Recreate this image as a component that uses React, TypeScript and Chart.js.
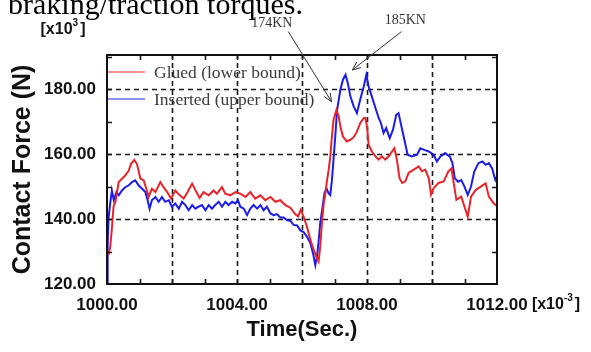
import React, { useEffect, useRef } from 'react';
import { Chart, registerables } from 'chart.js';

Chart.register(...registerables);

// ---- data (time in 10^-3 s, force in 10^3 N) ----
const redTime = [
  1000.05, 1000.1, 1000.15, 1000.2, 1000.26, 1000.36, 1000.46, 1000.56, 1000.67, 1000.74,
  1000.84, 1000.92, 1001.03, 1001.13, 1001.21, 1001.28, 1001.38, 1001.49, 1001.64, 1001.74,
  1001.85, 1001.97, 1002.1, 1002.24, 1002.36, 1002.48, 1002.62, 1002.75, 1002.85, 1002.97,
  1003.13, 1003.28, 1003.38, 1003.54, 1003.64, 1003.79, 1003.95, 1004.1, 1004.26, 1004.41,
  1004.56, 1004.72, 1004.87, 1005.03, 1005.18, 1005.33, 1005.49, 1005.64, 1005.79, 1005.88,
  1005.96, 1006.05, 1006.15, 1006.26, 1006.36, 1006.46, 1006.51, 1006.56, 1006.62, 1006.67,
  1006.72, 1006.77, 1006.82, 1006.87, 1006.92, 1006.97, 1007.06, 1007.13, 1007.18, 1007.26,
  1007.38, 1007.49, 1007.59, 1007.69, 1007.79, 1007.9, 1007.95, 1008.0, 1008.05, 1008.15,
  1008.26, 1008.36, 1008.46, 1008.56, 1008.67, 1008.77, 1008.84, 1008.92, 1009.0, 1009.08,
  1009.18, 1009.28, 1009.44, 1009.59, 1009.69, 1009.79, 1009.9, 1009.97, 1010.05, 1010.2,
  1010.36, 1010.5, 1010.6, 1010.67, 1010.75, 1010.9, 1011.0, 1011.1, 1011.2, 1011.35,
  1011.5, 1011.65, 1011.75, 1011.9, 1012.0,
];
const redForce = [
  129, 131.5, 137, 143.8, 145.3, 151.4, 152.4, 153.4, 154.9, 157,
  158.2, 157, 152.4, 151.9, 149.3, 146.8, 149.3, 148.3, 151.4, 149.8,
  148.3, 146.3, 148.8, 147.3, 146.3, 148.3, 150.9, 148.3, 146.5, 148.3,
  147.3, 148.8, 147.8, 149.8, 147.8, 147.3, 148.3, 147.8, 146.8, 148.3,
  146.3, 147.3, 145.8, 146.8, 145.3, 145.8, 144.3, 143.5, 141.5, 140.8,
  142.8, 140.7, 137.7, 133.5, 130.5, 127.9, 126.9, 131.5, 139.7, 144.9,
  147.9, 152, 155.1, 159.2, 165.4, 170.5, 173.6, 171.6, 168.5, 165.4,
  163.9, 164.4, 165.2, 166.9, 169.5, 171.1, 171.1, 168.5, 162.9, 160.8,
  159.3, 158.3, 159.3, 158.3, 159.3, 160.8, 161.8, 158.3, 152.6, 151.1,
  151.6, 154.2, 155.2, 156.2, 154.7, 155.2, 152.6, 147.5, 149.5, 151.1,
  151.6, 154.6, 155.6, 151, 145.9, 146.9, 143.8, 140.7, 146.9, 149,
  150, 151, 146.9, 144.8, 144,
];
const blueTime = [
  1000.0, 1000.02, 1000.05, 1000.1, 1000.15, 1000.21, 1000.29, 1000.36, 1000.46, 1000.56,
  1000.67, 1000.77, 1000.87, 1000.97, 1001.08, 1001.18, 1001.25, 1001.31, 1001.38, 1001.49,
  1001.59, 1001.69, 1001.79, 1001.9, 1002.0, 1002.1, 1002.21, 1002.31, 1002.41, 1002.51,
  1002.62, 1002.72, 1002.82, 1002.92, 1003.03, 1003.13, 1003.23, 1003.33, 1003.44, 1003.54,
  1003.64, 1003.74, 1003.85, 1003.95, 1004.03, 1004.1, 1004.21, 1004.31, 1004.41, 1004.51,
  1004.62, 1004.72, 1004.82, 1004.92, 1005.03, 1005.13, 1005.23, 1005.33, 1005.44, 1005.54,
  1005.64, 1005.74, 1005.85, 1005.95, 1006.05, 1006.15, 1006.26, 1006.34, 1006.41, 1006.46,
  1006.51, 1006.56, 1006.62, 1006.69, 1006.75, 1006.82, 1006.87, 1006.92, 1006.97, 1007.03,
  1007.08, 1007.18, 1007.26, 1007.34, 1007.41, 1007.49, 1007.59, 1007.69, 1007.79, 1007.9,
  1007.98, 1008.05, 1008.15, 1008.26, 1008.36, 1008.43, 1008.51, 1008.59, 1008.7, 1008.8,
  1008.9, 1008.97, 1009.06, 1009.15, 1009.25, 1009.38, 1009.54, 1009.64, 1009.76, 1009.9,
  1010.05, 1010.15, 1010.26, 1010.4, 1010.55, 1010.63, 1010.7, 1010.8, 1010.9, 1011.0,
  1011.1, 1011.2, 1011.3, 1011.43, 1011.55, 1011.65, 1011.75, 1011.85, 1011.95, 1012.0,
];
const blueForce = [
  120, 132, 140.5, 145, 148.8, 145.8, 148.3, 147.3, 148.8, 149.8,
  150.4, 151.4, 151.9, 150.4, 149.3, 148.3, 145.8, 143.2, 145.8, 146.8,
  145.3, 146.8, 145.3, 145.8, 143.8, 144.8, 143.2, 145.3, 144.3, 142.7,
  144.3, 143.2, 143.8, 144.3, 142.7, 144.3, 143.2, 144.3, 145.3, 143.8,
  145.3, 144.3, 145.3, 144.8, 145.8, 143.8, 143.2, 141.2, 143.2, 144.3,
  143.2, 144.3, 142.7, 143.8, 141.7, 141.2, 141.5, 140.5, 140.5, 139.6,
  139.5, 138.2, 138, 136.5, 136, 134.6, 132.5, 129.4, 125.8, 128.4,
  133, 138.7, 142.8, 147.9, 149.5, 147.9, 147.4, 152, 158.2, 166.4,
  173.6, 179.8, 182.9, 184.4, 181.8, 177.7, 174.7, 172.6, 176.7, 180.8,
  184.4, 180.8, 177.7, 174.2, 171.1, 169.5, 166.5, 168, 164.9, 167.5,
  172.1, 172.6, 168.5, 164.4, 159.8, 159.3, 159.8, 161.8, 161.3, 160.8,
  159.8, 157.7, 159.3, 160.3, 159.2, 157.2, 152.6, 151.5, 152, 150,
  147.4, 150, 154.6, 157.2, 157.7, 156.7, 157.2, 155.6, 152, 153,
];

const seriesNames = ['Glued (lower bound)', 'Inserted (upper bound)'];
const seriesColors = ['#e8242a', '#1c1ce8'];

const xMin = 1000;
const xMax = 1012;
const yMin = 120;
const yMax = 190.5;
const xLabelValues = [1000, 1004, 1008, 1012];
const yLabelValues = [120, 140, 160, 180];
const xGridValues = [1002, 1004, 1006, 1008, 1010];
const yGridValues = [140, 160, 180];

// peak annotations: label, arrow tail and arrow head in data units
const noteLabels = ['174KN', '185KN'];
const noteLabelTime = [1005.07, 1009.18];
const noteLabelForce = [200.4, 201.3];
const noteTailTime = [1005.58, 1009.06];
const noteTailForce = [197.7, 197.7];
const noteHeadTime = [1006.91, 1007.55];
const noteHeadForce = [176.1, 185.9];

const TICK_FONT = "'Liberation Sans', Arial, sans-serif";
const TITLE_FONT = "'Liberation Sans', Arial, sans-serif";
const SERIF = "'Liberation Serif', 'Times New Roman', serif";

const overlayPlugin = {
  id: 'overlay',
  beforeDatasetsDraw(chart: any) {
    const { ctx, chartArea: a, scales } = chart;
    const xs = scales.x, ys = scales.y;
    ctx.save();
    ctx.strokeStyle = '#1a1a1a';
    ctx.lineWidth = 1.6;
    ctx.setLineDash([5, 4]);
    xGridValues.forEach((v) => {
      const px = Math.round(xs.getPixelForValue(v)) + 0.5;
      ctx.beginPath();
      ctx.moveTo(px, a.bottom);
      ctx.lineTo(px, a.top);
      ctx.stroke();
    });
    yGridValues.forEach((v) => {
      const py = Math.round(ys.getPixelForValue(v)) + 0.5;
      ctx.beginPath();
      ctx.moveTo(a.left, py);
      ctx.lineTo(a.right, py);
      ctx.stroke();
    });
    ctx.restore();
  },
  afterDatasetsDraw(chart: any) {
    const { ctx, chartArea: a, scales } = chart;
    const xs = scales.x, ys = scales.y;
    ctx.save();
    // inner minor ticks
    ctx.strokeStyle = '#1a1a1a';
    ctx.lineWidth = 1.6;
    for (let v = xMin + 1; v < xMax; v++) {
      const px = Math.round(xs.getPixelForValue(v)) + 0.5;
      ctx.beginPath();
      ctx.moveTo(px, a.bottom);
      ctx.lineTo(px, a.bottom - 5);
      ctx.moveTo(px, a.top);
      ctx.lineTo(px, a.top + 5);
      ctx.stroke();
    }
    for (let v = yMin + 10; v < yMax; v += 10) {
      const py = Math.round(ys.getPixelForValue(v)) + 0.5;
      ctx.beginPath();
      ctx.moveTo(a.left, py);
      ctx.lineTo(a.left + 5, py);
      ctx.moveTo(a.right, py);
      ctx.lineTo(a.right - 5, py);
      ctx.stroke();
    }
    // frame
    ctx.lineWidth = 2;
    ctx.strokeStyle = '#111';
    ctx.strokeRect(a.left, a.top, a.right - a.left, a.bottom - a.top);

    // legend inside plot
    ctx.font = `17.5px ${SERIF}`;
    ctx.textBaseline = 'middle';
    ctx.textAlign = 'left';
    seriesNames.forEach((name, i) => {
      const ly = a.top + 17 + i * 27;
      ctx.strokeStyle = seriesColors[i];
      ctx.lineWidth = 1.2;
      ctx.beginPath();
      ctx.moveTo(a.left + 1, ly);
      ctx.lineTo(a.left + 38, ly);
      ctx.stroke();
      ctx.fillStyle = '#3c3c3c';
      ctx.fillText(name, a.left + 47, ly + 1);
    });

    // peak annotations
    ctx.font = `14px ${SERIF}`;
    ctx.textAlign = 'center';
    ctx.fillStyle = '#333';
    ctx.strokeStyle = '#333';
    ctx.lineWidth = 1;
    noteLabels.forEach((lab, i) => {
      ctx.fillText(lab, xs.getPixelForValue(noteLabelTime[i]), ys.getPixelForValue(noteLabelForce[i]));
      const x0 = xs.getPixelForValue(noteTailTime[i]);
      const y0 = ys.getPixelForValue(noteTailForce[i]);
      const x1 = xs.getPixelForValue(noteHeadTime[i]);
      const y1 = ys.getPixelForValue(noteHeadForce[i]);
      ctx.beginPath();
      ctx.moveTo(x0, y0);
      ctx.lineTo(x1, y1);
      const ang = Math.atan2(y1 - y0, x1 - x0);
      const L = 9;
      ctx.moveTo(x1, y1);
      ctx.lineTo(x1 - L * Math.cos(ang - 0.4), y1 - L * Math.sin(ang - 0.4));
      ctx.moveTo(x1, y1);
      ctx.lineTo(x1 - L * Math.cos(ang + 0.4), y1 - L * Math.sin(ang + 0.4));
      ctx.stroke();
    });

    // multiplier labels
    const drawPow = (cx: number, cy: number, base: string, sup: string) => {
      ctx.fillStyle = '#111';
      ctx.textAlign = 'left';
      ctx.textBaseline = 'middle';
      const big = `bold 16px ${TICK_FONT}`;
      const small = `bold 10px ${TICK_FONT}`;
      ctx.font = big;
      const w1 = ctx.measureText(base).width;
      const w3 = ctx.measureText(']').width;
      ctx.font = small;
      const w2 = ctx.measureText(sup).width;
      let x = cx - (w1 + w2 + w3 + 2) / 2;
      ctx.font = big;
      ctx.fillText(base, x, cy);
      x += w1;
      ctx.font = small;
      ctx.fillText(sup, x, cy - 7);
      x += w2 + 2;
      ctx.font = big;
      ctx.fillText(']', x, cy);
    };
    drawPow(63, 30, '[x10', '3');
    drawPow(a.right + 59, 305, '[x10', '-3');

    // top caption fragment (text above the figure)
    ctx.font = `30px ${SERIF}`;
    ctx.fillStyle = '#000';
    ctx.textAlign = 'left';
    ctx.textBaseline = 'alphabetic';
    ctx.fillText('braking/traction torques.', 8, 14);
    ctx.restore();
  },
};

export default function App() {
  const ref = useRef<HTMLCanvasElement | null>(null);
  useEffect(() => {
    if (!ref.current) return;
    const mk = (t: number[], f: number[]) => t.map((x, i) => ({ x, y: f[i] }));
    const chart = new Chart(ref.current, {
      type: 'line',
      data: {
        datasets: [
          {
            label: seriesNames[0],
            data: mk(redTime, redForce),
            borderColor: seriesColors[0],
            borderWidth: 2,
            pointRadius: 0,
            tension: 0,
          },
          {
            label: seriesNames[1],
            data: mk(blueTime, blueForce),
            borderColor: seriesColors[1],
            borderWidth: 2,
            pointRadius: 0,
            tension: 0,
          },
        ],
      },
      options: {
        animation: false,
        responsive: false,
        events: [],
        layout: { padding: { left: 0, top: 55, right: 94, bottom: 0 } },
        plugins: { legend: { display: false }, tooltip: { enabled: false } },
        scales: {
          x: {
            type: 'linear',
            min: xMin,
            max: xMax,
            afterFit: (s: any) => { s.height = 68; },
            grid: { display: false, drawTicks: false },
            border: { display: false },
            ticks: {
              stepSize: 1,
              autoSkip: false,
              maxRotation: 0,
              padding: 11,
              color: '#111',
              font: { family: TICK_FONT, size: 17, weight: 'bold' },
              callback: (v: any) => (xLabelValues.includes(Number(v)) ? Number(v).toFixed(2) : ''),
            },
            title: {
              display: true,
              text: 'Time(Sec.)',
              color: '#111',
              font: { family: TITLE_FONT, size: 22, weight: 'bold' },
              padding: { top: 0, bottom: 9 },
            },
          },
          y: {
            type: 'linear',
            min: yMin,
            max: yMax,
            afterFit: (s: any) => { s.width = 107; },
            grid: { display: false, drawTicks: false },
            border: { display: false },
            ticks: {
              stepSize: 10,
              includeBounds: false,
              autoSkip: false,
              padding: 11,
              color: '#111',
              font: { family: TICK_FONT, size: 17, weight: 'bold' },
              callback: (v: any) => (yLabelValues.includes(Number(v)) ? Number(v).toFixed(2) : ''),
            },
            title: {
              display: true,
              text: 'Contact Force (N)',
              color: '#111',
              font: { family: TITLE_FONT, size: 25, weight: 'bold' },
              padding: { top: 8, bottom: 0 },
            },
          },
        },
      },
      plugins: [overlayPlugin],
    } as any);
    return () => chart.destroy();
  }, []);
  return (
    <div style={{ position: 'absolute', left: 0, top: 0, width: 591, height: 352, background: '#fff' }}>
      <canvas ref={ref} width={591} height={352} style={{ width: 591, height: 352, display: 'block' }} />
    </div>
  );
}
